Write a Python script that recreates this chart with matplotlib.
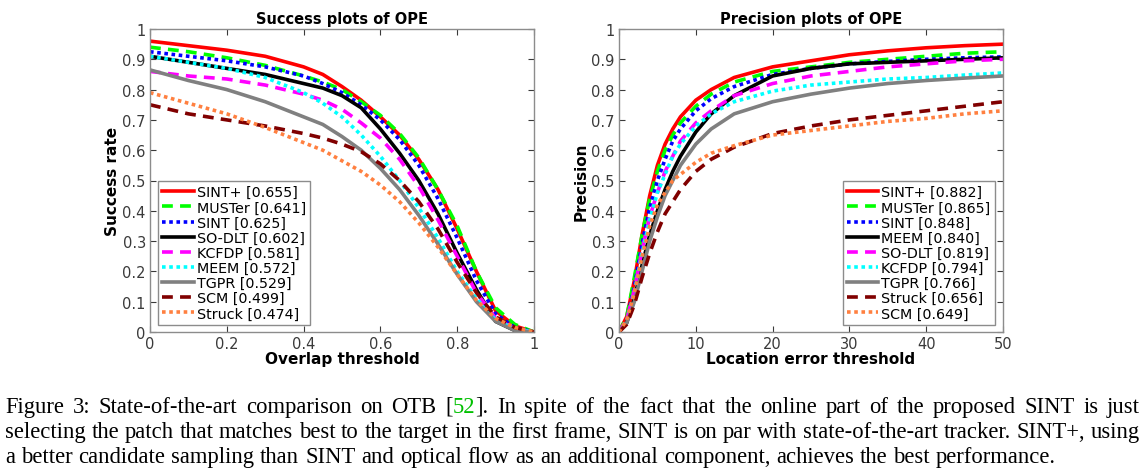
import matplotlib
matplotlib.use("Agg")
import matplotlib.pyplot as plt

# success plot (overlap threshold)
ov_x = [0, 0.1, 0.2, 0.3, 0.4, 0.45, 0.5, 0.55, 0.6, 0.65, 0.7, 0.75, 0.8, 0.85, 0.9, 0.95, 1.0]
succ_names = ["SINT+ [0.655]", "MUSTer [0.641]", "SINT [0.625]", "SO-DLT [0.602]", "KCFDP [0.581]",
              "MEEM [0.572]", "TGPR [0.529]", "SCM [0.499]", "Struck [0.474]"]
succ_sint_plus = [0.96, 0.945, 0.93, 0.91, 0.875, 0.85, 0.81, 0.765, 0.71, 0.65, 0.57, 0.47, 0.34, 0.2, 0.07, 0.02, 0]
succ_muster = [0.94, 0.925, 0.905, 0.88, 0.845, 0.825, 0.8, 0.76, 0.715, 0.655, 0.575, 0.47, 0.35, 0.2, 0.08, 0.025, 0]
succ_sint = [0.925, 0.91, 0.895, 0.875, 0.845, 0.82, 0.79, 0.75, 0.7, 0.635, 0.55, 0.44, 0.31, 0.17, 0.06, 0.015, 0]
succ_sodlt = [0.91, 0.89, 0.87, 0.85, 0.82, 0.805, 0.78, 0.74, 0.67, 0.59, 0.5, 0.39, 0.26, 0.14, 0.035, 0.005, 0]
succ_kcfdp = [0.86, 0.845, 0.835, 0.815, 0.785, 0.765, 0.735, 0.69, 0.64, 0.57, 0.48, 0.37, 0.25, 0.13, 0.045, 0.01, 0]
succ_meem = [0.91, 0.89, 0.87, 0.84, 0.79, 0.755, 0.71, 0.65, 0.58, 0.5, 0.41, 0.31, 0.2, 0.11, 0.04, 0.01, 0]
succ_tgpr = [0.865, 0.83, 0.8, 0.76, 0.71, 0.685, 0.645, 0.6, 0.54, 0.47, 0.385, 0.29, 0.19, 0.1, 0.035, 0.005, 0]
succ_scm = [0.75, 0.72, 0.7, 0.68, 0.655, 0.64, 0.62, 0.595, 0.555, 0.5, 0.43, 0.34, 0.23, 0.13, 0.05, 0.015, 0]
succ_struck = [0.79, 0.755, 0.72, 0.675, 0.625, 0.6, 0.565, 0.53, 0.485, 0.43, 0.36, 0.28, 0.19, 0.105, 0.045, 0.015, 0]

# precision plot (location error threshold)
loc_x = [0, 1, 2, 3, 4, 5, 6, 7, 8, 10, 12, 15, 20, 25, 30, 35, 40, 45, 50]
prec_names = ["SINT+ [0.882]", "MUSTer [0.865]", "SINT [0.848]", "MEEM [0.840]", "SO-DLT [0.819]",
              "KCFDP [0.794]", "TGPR [0.766]", "Struck [0.656]", "SCM [0.649]"]
prec_sint_plus = [0, 0.05, 0.17, 0.32, 0.45, 0.55, 0.62, 0.67, 0.71, 0.765, 0.8, 0.84, 0.875, 0.895, 0.915, 0.928, 0.938, 0.945, 0.95]
prec_muster = [0, 0.05, 0.18, 0.32, 0.44, 0.53, 0.6, 0.65, 0.69, 0.745, 0.785, 0.825, 0.86, 0.875, 0.89, 0.9, 0.91, 0.92, 0.925]
prec_sint = [0, 0.04, 0.15, 0.29, 0.41, 0.5, 0.57, 0.63, 0.67, 0.73, 0.77, 0.81, 0.85, 0.87, 0.885, 0.893, 0.9, 0.905, 0.908]
prec_meem = [0, 0.03, 0.11, 0.22, 0.32, 0.4, 0.47, 0.53, 0.58, 0.66, 0.72, 0.78, 0.845, 0.87, 0.885, 0.89, 0.895, 0.9, 0.905]
prec_sodlt = [0, 0.04, 0.14, 0.27, 0.38, 0.46, 0.53, 0.58, 0.63, 0.69, 0.73, 0.78, 0.82, 0.845, 0.86, 0.875, 0.885, 0.895, 0.9]
prec_kcfdp = [0, 0.035, 0.13, 0.26, 0.37, 0.46, 0.52, 0.58, 0.62, 0.68, 0.72, 0.76, 0.795, 0.815, 0.825, 0.835, 0.84, 0.848, 0.855]
prec_tgpr = [0, 0.03, 0.1, 0.2, 0.3, 0.38, 0.45, 0.5, 0.55, 0.62, 0.67, 0.72, 0.76, 0.785, 0.805, 0.82, 0.83, 0.838, 0.845]
prec_struck = [0, 0.025, 0.09, 0.18, 0.26, 0.33, 0.39, 0.43, 0.47, 0.53, 0.57, 0.61, 0.655, 0.68, 0.7, 0.715, 0.73, 0.745, 0.76]
prec_scm = [0, 0.04, 0.13, 0.25, 0.35, 0.42, 0.46, 0.5, 0.52, 0.56, 0.59, 0.615, 0.65, 0.665, 0.68, 0.695, 0.705, 0.72, 0.73]

# caption (lines 1 and 2 are justified, "52" is a green citation link)
caption_lines = [
    "Figure 3: State-of-the-art comparison on OTB [52]. In spite of the fact that the online part of the proposed SINT is just",
    "selecting the patch that matches best to the target in the first frame, SINT is on par with state-of-the-art tracker. SINT+, using",
    "a better candidate sampling than SINT and optical flow as an additional component, achieves the best performance.",
]
cite = "52"

# line styles per legend slot (same order in both plots)
styles = [("#ff0000", "-"), ("#00ff00", (0, (3, 2))), ("#0000ff", (0, (1, 1))), ("#000000", "-"),
          ("#ff00ff", (0, (3, 2))), ("#00ffff", (0, (1, 1))), ("#808080", "-"), ("#800000", (0, (3, 2))),
          ("#ff8040", (0, (1, 1)))]

W, H = 1143, 477
fig = plt.figure(figsize=(W / 100, H / 100), dpi=100)
ax1 = fig.add_axes([150 / W, 1 - 333 / H, 384 / W, 303 / H])
ax2 = fig.add_axes([619 / W, 1 - 333 / H, 384 / W, 303 / H])

succ = [succ_sint_plus, succ_muster, succ_sint, succ_sodlt, succ_kcfdp, succ_meem, succ_tgpr, succ_scm, succ_struck]
prec = [prec_sint_plus, prec_muster, prec_sint, prec_meem, prec_sodlt, prec_kcfdp, prec_tgpr, prec_struck, prec_scm]

for (c, ls), ys, name in zip(styles, succ, succ_names):
    ax1.plot(ov_x, ys, color=c, linestyle=ls, linewidth=2.6, label=name)
for (c, ls), ys, name in zip(styles, prec, prec_names):
    ax2.plot(loc_x, ys, color=c, linestyle=ls, linewidth=2.6, label=name)

for ax, title, xl, yl, xmax, xt in [
        (ax1, "Success plots of OPE", "Overlap threshold", "Success rate", 1, [0, 0.2, 0.4, 0.6, 0.8, 1]),
        (ax2, "Precision plots of OPE", "Location error threshold", "Precision", 50, [0, 10, 20, 30, 40, 50])]:
    ax.set_xlim(0, xmax)
    ax.set_ylim(0, 1)
    ax.set_xticks(xt)
    ax.set_xticklabels([("%g" % v) for v in xt])
    ax.set_yticks([i / 10 for i in range(11)])
    ax.set_yticklabels(["0"] + ["%.1f" % (i / 10) for i in range(1, 10)] + ["1"])
    ax.tick_params(direction="in", length=4, width=0.8, colors="#3a3a3a", labelsize=10.5,
                   top=True, right=True, pad=3)
    for s in ax.spines.values():
        s.set_color("#8c8c8c")
        s.set_linewidth(1.0)
    ax.set_title(title, fontsize=10.5, fontweight="bold", pad=4)
    ax.set_xlabel(xl, fontsize=11, fontweight="bold", labelpad=0)
    ax.set_ylabel(yl, fontsize=11, fontweight="bold", labelpad=2)

leg_kw = dict(fontsize=10.3, handlelength=2.2, handletextpad=0.2, labelspacing=0.08,
              borderpad=0.3, borderaxespad=0.3, fancybox=False, framealpha=1, edgecolor="#8c8c8c")
l1 = ax1.legend(loc="lower left", bbox_to_anchor=(0.01, 0.01), **leg_kw)
l2 = ax2.legend(loc="lower right", bbox_to_anchor=(0.99, 0.01), **leg_kw)
for leg in (l1, l2):
    leg.get_frame().set_linewidth(1.0)

# caption, placed word by word
renderer = fig.canvas.get_renderer()
cap_kw = dict(fontsize=16.3, family="Liberation Serif", va="baseline", ha="left")
left_px, right_px = 5, 1140
baselines = [413, 438, 463]


def word_pieces(word):
    if cite in word and "[" in word:
        a, rest = word.split(cite, 1)
        return [(a, "black"), (cite, "#00c000"), (rest, "black")]
    return [(word, "black")]


for li, (line, base) in enumerate(zip(caption_lines, baselines)):
    y = 1 - base / H
    words = []
    for w in line.split(" "):
        arts = []
        for txt, col in word_pieces(w):
            if txt:
                arts.append(fig.text(0, y, txt, color=col, **cap_kw))
        widths = [a.get_window_extent(renderer).width for a in arts]
        words.append((arts, widths))
    total = sum(sum(ws) for _, ws in words)
    if li < 2:
        gap = (right_px - left_px - total) / (len(words) - 1)
    else:
        gap = fig.text(0, 0, "a a", **cap_kw)
        g_w = gap.get_window_extent(renderer).width
        a_w = fig.text(0, 0, "aa", **cap_kw)
        g2 = a_w.get_window_extent(renderer).width
        gap.remove()
        a_w.remove()
        gap = (g_w - g2) * 1.05
    x = left_px
    for arts, ws in words:
        for a, w in zip(arts, ws):
            a.set_x(x / W)
            x += w
        x += gap

fig.savefig("out.png", dpi=100)
